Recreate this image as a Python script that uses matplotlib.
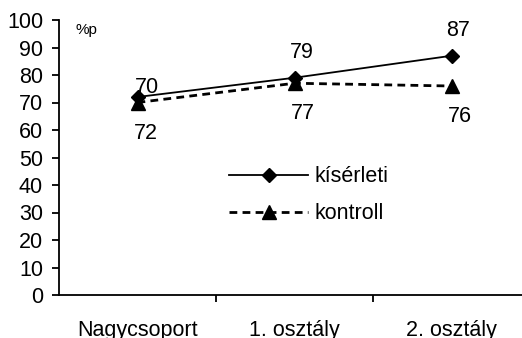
import matplotlib
matplotlib.use("Agg")
import matplotlib.pyplot as plt
import numpy as np

plt.rcParams['font.family'] = ['Liberation Sans', 'DejaVu Sans']

categories = ['Nagycsoport', '1. osztály', '2. osztály']
kiserleti = [72, 79, 87]
kontroll = [70, 77, 76]
# data labels as printed on the original chart
kiserleti_labels = ['70', '79', '87']
kontroll_labels = ['72', '77', '76']

fs = 15.5

fig = plt.figure(figsize=(5.22, 3.38), dpi=100)
ax = fig.add_axes([59 / 522, 1 - 295 / 338, 463 / 522, 275 / 338])

x = np.arange(len(categories))
l1, = ax.plot(x, kiserleti, color='black', lw=1.3, marker='D', ms=7.5,
              label='kísérleti')
l2, = ax.plot(x, kontroll, color='black', lw=2, ls=(0, (2.8, 1.9)),
              marker='^', ms=10, label='kontroll')

for i, t in enumerate(kiserleti_labels):
    off = (7, 7) if i == 0 else (5, 18.5)
    ax.annotate(t, (x[i], kiserleti[i]), xytext=off, textcoords='offset points',
                ha='center', va='center', fontsize=fs)
for i, t in enumerate(kontroll_labels):
    ax.annotate(t, (x[i], kontroll[i]), xytext=(6, -22), textcoords='offset points',
                ha='center', va='center', fontsize=fs)

ax.set_ylim(0, 100)
ax.set_yticks(np.arange(0, 101, 10))
ax.set_xlim(-0.5, -0.5 + 463 / 157)
ax.set_xticks(x)
ax.set_xticklabels(categories)
ax.set_xticks([0.5, 1.5], minor=True)
ax.tick_params(axis='x', which='major', length=0, pad=18, labelsize=fs)
ax.tick_params(axis='x', which='minor', length=5, width=1.3)
ax.tick_params(axis='y', length=5, width=1.3, labelsize=fs, pad=6.5)
for s in ['top', 'right']:
    ax.spines[s].set_visible(False)
for s in ['left', 'bottom']:
    ax.spines[s].set_linewidth(1.3)

ax.text(0.035, 0.965, '%p', transform=ax.transAxes, fontsize=11, va='center')

ax.legend(handles=[l1, l2], loc='upper left', bbox_to_anchor=(0.348, 0.5),
          frameon=False, fontsize=fs, handlelength=3.7, handletextpad=0.3,
          labelspacing=0.75, borderaxespad=0)

fig.savefig('out.png', dpi=100)
